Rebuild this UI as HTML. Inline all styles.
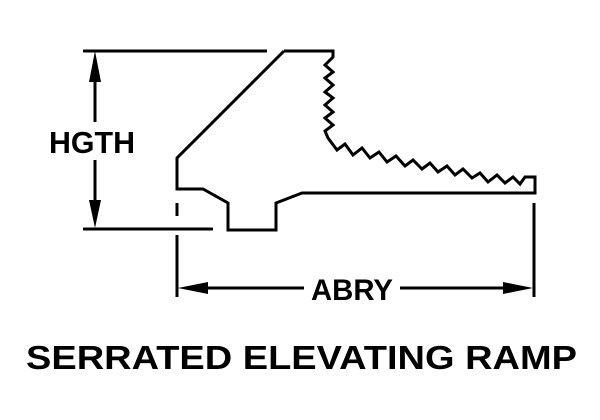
<!DOCTYPE html>
<html><head><meta charset="utf-8"><style>html,body{margin:0;padding:0;background:#fff}svg{display:block}</style></head>
<body>
<svg width="600" height="420" viewBox="0 0 600 420" xmlns="http://www.w3.org/2000/svg">
<g fill="none" stroke="#000" stroke-width="3" stroke-linejoin="miter">
<polyline points="284,51 333,51 333,57 325,65 333,72 325,78 333,85 325,92 333,98 325,105 333,112 325,118 333,125 325,131 328,138 337,150 345,144 353,155 362,148 370,158 379,152 387,162 396,156 405,166 413,160 422,169 430,163 438,172 447,166 455,175 463,169 472,178 480,173 488,182 497,175 505,183 513,177 520,184 525,177 535,177 535,193 302,193 276,203 276,230 228,230 228,203 203,189 177,189 177,158 284,51"/>
<line x1="83" y1="51" x2="267" y2="51"/>
<line x1="83" y1="229" x2="213" y2="229"/>
<line x1="95" y1="75" x2="95" y2="122"/>
<line x1="95" y1="160" x2="95" y2="205"/>
<line x1="177" y1="203" x2="177" y2="216"/>
<line x1="177" y1="235" x2="177" y2="297"/>
<line x1="534" y1="203" x2="534" y2="297"/>
<line x1="200" y1="288" x2="304" y2="288"/>
<line x1="400" y1="288" x2="512" y2="288"/>
</g>
<g fill="#000">
<polygon points="95,51 89,82 101,82"/>
<polygon points="95,228 89,200 101,200"/>
<polygon points="178,288 208,282 208,294"/>
<polygon points="533,288 503,282 503,294"/>
</g>
<g font-family="Liberation Sans, Arial, sans-serif" font-weight="bold" fill="#000">
<text x="49" y="153" font-size="31" textLength="86" lengthAdjust="spacingAndGlyphs">HGTH</text>
<text x="311" y="300" font-size="30" textLength="82" lengthAdjust="spacingAndGlyphs">ABRY</text>
<text x="26" y="369" font-size="33" textLength="551" lengthAdjust="spacingAndGlyphs">SERRATED ELEVATING RAMP</text>
</g>
</svg>
</body></html>
